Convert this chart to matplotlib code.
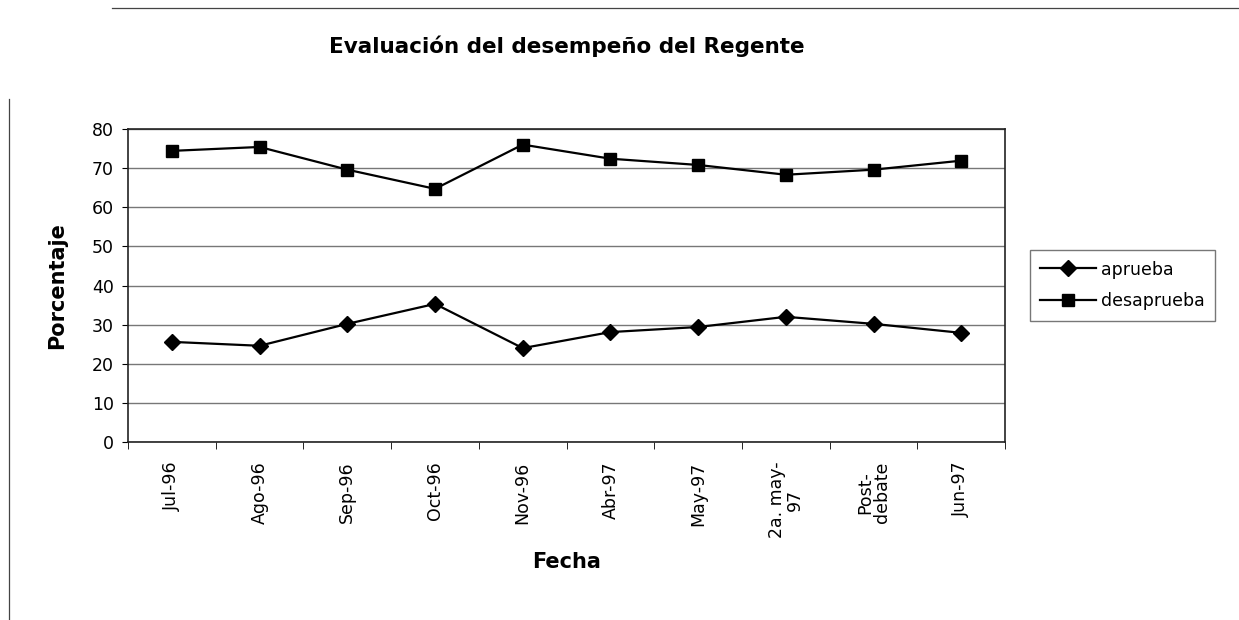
import numpy as np
import matplotlib.pyplot as plt
from matplotlib.lines import Line2D

fechas = ['Jul-96', 'Ago-96', 'Sep-96', 'Oct-96', 'Nov-96', 'Abr-97', 'May-97',
          '2a. may-\n97', 'Post-\ndebate', 'Jun-97']
aprueba = [25.6, 24.6, 30.2, 35.3, 24.0, 28.1, 29.4, 32.0, 30.2, 27.9]
desaprueba = [74.4, 75.4, 69.6, 64.7, 76.0, 72.4, 70.8, 68.3, 69.6, 71.9]

plt.rcParams['font.family'] = ['DejaVu Sans']

fig = plt.figure(figsize=(12.39, 6.20), dpi=100)
ax = fig.add_axes([0.1033, 0.287, 0.708, 0.505])

# bits of the outer chart frame (top and left)
fig.add_artist(Line2D([0.09, 1.0], [0.987, 0.987], transform=fig.transFigure,
                      color='#444444', linewidth=0.9))
fig.add_artist(Line2D([0.007, 0.007], [0.0, 0.84], transform=fig.transFigure,
                      color='#444444', linewidth=0.9))

x = np.arange(len(fechas))
ax.plot(x, aprueba, color='black', marker='D', markersize=8, linewidth=1.6, label='aprueba')
ax.plot(x, desaprueba, color='black', marker='s', markersize=9, linewidth=1.6, label='desaprueba')

ax.set_xlim(-0.5, len(fechas) - 0.5)
ax.set_ylim(0, 80)
ax.set_yticks(range(0, 81, 10))
ax.yaxis.grid(True, color='#777777', linewidth=1.0)
ax.set_axisbelow(True)

ax.set_xticks(x)
ax.set_xticklabels(fechas, rotation=90, fontsize=12.5, va='top', ha='center', linespacing=0.95)
ax.set_xticks(np.arange(-0.5, len(fechas), 1), minor=True)
ax.tick_params(axis='x', which='major', length=0, pad=14)
ax.tick_params(axis='x', which='minor', length=5, direction='out')
ax.tick_params(axis='y', length=4, labelsize=12.5, pad=6)

for s in ax.spines.values():
    s.set_linewidth(1.2)
    s.set_color('#222222')

ax.set_title('Evaluación del desempeño del Regente', fontsize=15.5, fontweight='bold', pad=55)
ax.set_ylabel('Porcentaje', fontsize=15, fontweight='bold', labelpad=18)
ax.set_xlabel('Fecha', fontsize=15, fontweight='bold', labelpad=10)

leg = ax.legend(loc='center left', bbox_to_anchor=(1.018, 0.5), fontsize=12.5, frameon=True,
                fancybox=False, edgecolor='#555555', handlelength=3.2, borderpad=0.6,
                labelspacing=0.8, handletextpad=0.3)
leg.get_frame().set_linewidth(1.0)

fig.savefig('out.png', dpi=100)
